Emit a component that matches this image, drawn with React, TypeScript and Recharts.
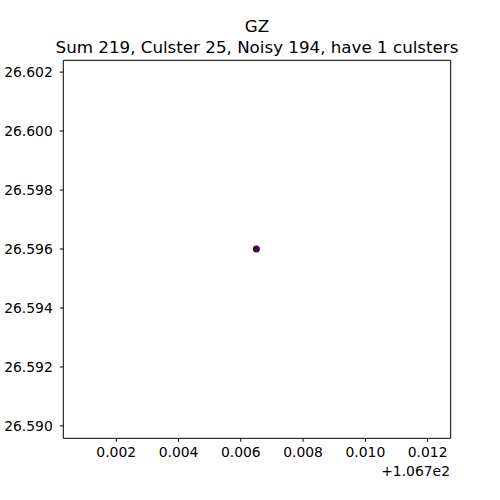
import React from "react";
import { ScatterChart, Scatter, XAxis, YAxis, ReferenceLine } from "recharts";

const titleText = "GZ";
const subtitleText = "Sum 219, Culster 25, Noisy 194, have 1 culsters";
const offsetText = "+1.067e2";
const xOffset = 106.7;
const xDomain = [106.7003, 106.71274];
const yDomain = [26.58958, 26.6024];
const xTicks = [106.702, 106.704, 106.706, 106.708, 106.71, 106.712];
const yTicks = [26.59, 26.592, 26.594, 26.596, 26.598, 26.6, 26.602];
const pointsX = [106.7065];
const pointsY = [26.596];
const pointColor = "#440154";

const data = pointsX.map((x, i) => ({ x, y: pointsY[i] }));
const font = "DejaVu Sans, sans-serif";
const tickStyle = { fontSize: 13.9, fill: "#000", fontFamily: font };

const Dot = (props: any) => {
  const { cx, cy } = props;
  return <circle cx={cx} cy={cy} r={3.5} fill={pointColor} />;
};

export default function App() {
  return (
    <div style={{ position: "absolute", left: 0, top: 0, width: 500, height: 500, background: "#fff" }}>
      <ScatterChart width={500} height={500} margin={{ top: 60.3, right: 49.3, bottom: 31.7, left: 8.3 }}>
        <XAxis
          dataKey="x"
          type="number"
          domain={xDomain}
          allowDataOverflow
          ticks={xTicks}
          interval={0}
          tickFormatter={(v: number) => (v - xOffset).toFixed(3)}
          tick={tickStyle}
          tickSize={3.5}
          tickMargin={5}
          height={30}
          stroke="#000"
          axisLine={{ stroke: "#000", strokeWidth: 1 }}
          tickLine={{ stroke: "#000" }}
        />
        <YAxis
          dataKey="y"
          type="number"
          domain={yDomain}
          allowDataOverflow
          ticks={yTicks}
          interval={0}
          tickFormatter={(v: number) => v.toFixed(3)}
          tick={tickStyle}
          tickSize={3.5}
          tickMargin={7}
          width={55}
          stroke="#000"
          axisLine={{ stroke: "#000", strokeWidth: 1 }}
          tickLine={{ stroke: "#000" }}
        />
        <ReferenceLine y={yDomain[1]} stroke="#000" strokeWidth={1} ifOverflow="extendDomain" />
        <ReferenceLine x={xDomain[1]} stroke="#000" strokeWidth={1} ifOverflow="extendDomain" />
        <Scatter data={data} fill={pointColor} shape={<Dot />} isAnimationActive={false} />
      </ScatterChart>
      <svg width={500} height={500} style={{ position: "absolute", left: 0, top: 0, pointerEvents: "none" }}>
        <text x={257} y={31.5} textAnchor="middle" fontFamily={font} fontSize={16.7} fill="#000">{titleText}</text>
        <text x={257} y={52.5} textAnchor="middle" fontFamily={font} fontSize={16.7} fill="#000">{subtitleText}</text>
        <text x={450} y={476} textAnchor="end" fontFamily={font} fontSize={13.9} fill="#000">{offsetText}</text>
      </svg>
    </div>
  );
}
